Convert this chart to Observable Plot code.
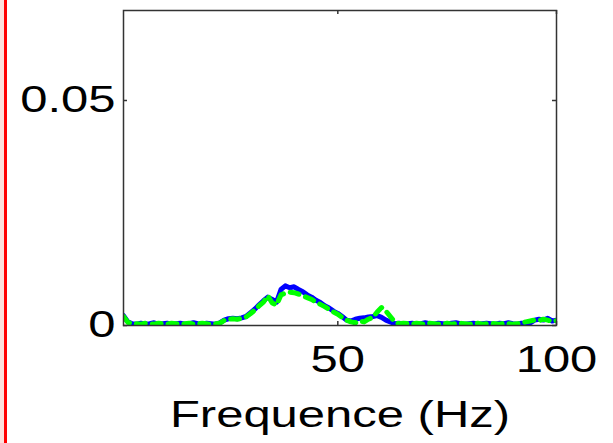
<!DOCTYPE html>
<html>
<head>
<meta charset="utf-8">
<script src="https://cdn.jsdelivr.net/npm/d3@7"></script>
<script src="https://cdn.jsdelivr.net/npm/@observablehq/plot@0.6"></script>
<style>
  html, body { margin: 0; padding: 0; background: #fff; }
  #wrap { position: relative; width: 613px; height: 443px; overflow: hidden; }
  #band { position: absolute; left: 0; top: 0; width: 4px; height: 443px; background: #fde0dc; }
  #redline { position: absolute; left: 4px; top: 0; width: 3px; height: 443px; background: #ff0000; }
  #chart { position: absolute; left: 0; top: 0; }
</style>
</head>
<body>
<div id="wrap">
  <div id="chart"></div>
  <div id="band"></div>
  <div id="redline"></div>
</div>
<script>
const freqs = d3.range(1, 101);
const blueValues = [
  0.0022, 0.0008, 0.0004, 0.0003, 0.0005, 0.0003, 0.0004, 0.0006, 0.0003, 0.0004,
  0.0005, 0.0003, 0.0004, 0.0005, 0.0003, 0.0004, 0.0006, 0.0004, 0.0003, 0.0005,
  0.0004, 0.0003, 0.0006, 0.0012, 0.0015, 0.0016, 0.0015, 0.0017, 0.0020, 0.0028,
  0.0036, 0.0046, 0.0055, 0.0063, 0.0058, 0.0052, 0.0080, 0.0088, 0.0084, 0.0086,
  0.0080, 0.0075, 0.0068, 0.0063, 0.0056, 0.0051, 0.0044, 0.0039, 0.0032, 0.0027,
  0.0020, 0.0012, 0.0010, 0.0014, 0.0016, 0.0017, 0.0019, 0.0020, 0.0022, 0.0018,
  0.0012, 0.0008, 0.0004, 0.0005, 0.0003, 0.0004, 0.0005, 0.0003, 0.0004, 0.0006,
  0.0004, 0.0003, 0.0005, 0.0004, 0.0003, 0.0005, 0.0006, 0.0004, 0.0003, 0.0004,
  0.0005, 0.0003, 0.0004, 0.0005, 0.0004, 0.0003, 0.0005, 0.0004, 0.0006, 0.0004,
  0.0003, 0.0005, 0.0004, 0.0006, 0.0012, 0.0014, 0.0012, 0.0016, 0.0010, 0.0012
];
const greenValues = [
  0.0020, 0.0007, 0.0004, 0.0004, 0.0003, 0.0005, 0.0004, 0.0003, 0.0005, 0.0004,
  0.0003, 0.0005, 0.0004, 0.0003, 0.0004, 0.0005, 0.0003, 0.0004, 0.0005, 0.0004,
  0.0003, 0.0004, 0.0005, 0.0011, 0.0014, 0.0015, 0.0014, 0.0016, 0.0019, 0.0026,
  0.0034, 0.0044, 0.0052, 0.0066, 0.0050, 0.0046, 0.0068, 0.0072, 0.0074, 0.0073,
  0.0070, 0.0066, 0.0062, 0.0058, 0.0052, 0.0047, 0.0042, 0.0036, 0.0030, 0.0025,
  0.0018, 0.0012, 0.0008, 0.0006, 0.0010, 0.0008, 0.0014, 0.0018, 0.0030, 0.0040,
  0.0032, 0.0020, 0.0008, 0.0004, 0.0005, 0.0004, 0.0003, 0.0005, 0.0004, 0.0003,
  0.0005, 0.0004, 0.0003, 0.0004, 0.0005, 0.0003, 0.0004, 0.0005, 0.0004, 0.0003,
  0.0004, 0.0005, 0.0003, 0.0004, 0.0005, 0.0004, 0.0003, 0.0005, 0.0004, 0.0003,
  0.0004, 0.0005, 0.0008, 0.0010, 0.0012, 0.0011, 0.0014, 0.0012, 0.0009, 0.0011
];
const xTicks = [50, 100];
const yTicks = [0, 0.05];
const yTickLabels = ["0", "0.05"];
const xLabel = "Frequence (Hz)";

const blue = freqs.map((f, i) => ({f, v: blueValues[i]}));
const green = freqs.map((f, i) => ({f, v: greenValues[i]}));

const W = 613, H = 443, mL = 123, mR = 57, mT = 10, mB = 118;
const plotW = W - mL - mR, plotH = H - mT - mB, tk = 4;
const FS = 36;

const chart = Plot.plot({
  width: W, height: H,
  marginLeft: mL, marginRight: mR, marginTop: mT, marginBottom: mB,
  style: {fontFamily: "'Liberation Sans', Arial, Helvetica, sans-serif", fontSize: FS + "px", color: "#000", background: "transparent"},
  x: {domain: [1, 100]},
  y: {domain: [0, 0.07]},
  marks: [
    Plot.line(blue, {x: "f", y: "v", stroke: "#0000ff", strokeWidth: 5, clip: true}),
    Plot.line(green, {x: "f", y: "v", stroke: "#00ff00", strokeWidth: 5, strokeDasharray: "9,7", clip: true}),
    Plot.frame({stroke: "#333", strokeWidth: 1.5}),
    Plot.tickX(xTicks, {x: d => d, stroke: "#333", strokeWidth: 1.5, insetTop: plotH - tk}),
    Plot.tickX(xTicks, {x: d => d, stroke: "#333", strokeWidth: 1.5, insetBottom: plotH - tk}),
    Plot.tickY(yTicks, {y: d => d, stroke: "#333", strokeWidth: 1.5, insetRight: plotW - tk}),
    Plot.tickY(yTicks, {y: d => d, stroke: "#333", strokeWidth: 1.5, insetLeft: plotW - tk}),
    Plot.axisX({ticks: xTicks, tickSize: 0, tickPadding: 21, tickFormat: d => String(d), label: null, fontSize: FS}),
    Plot.axisY({ticks: yTicks, tickSize: 0, tickPadding: 8, tickFormat: (d, i) => yTickLabels[i], label: null, fontSize: FS}),
    Plot.text([xLabel], {text: d => d, frameAnchor: "bottom", lineAnchor: "middle", dy: 90, fontSize: FS, fill: "#000"})
  ]
});
// the reference glyphs are horizontally stretched: scale each text around its anchor
d3.select(chart).selectAll("text").each(function() {
  const t = this.getAttribute("transform") || "";
  this.setAttribute("transform", (t + " scale(1.36,1)").trim());
});
document.getElementById("chart").appendChild(chart);
</script>
</body>
</html>
